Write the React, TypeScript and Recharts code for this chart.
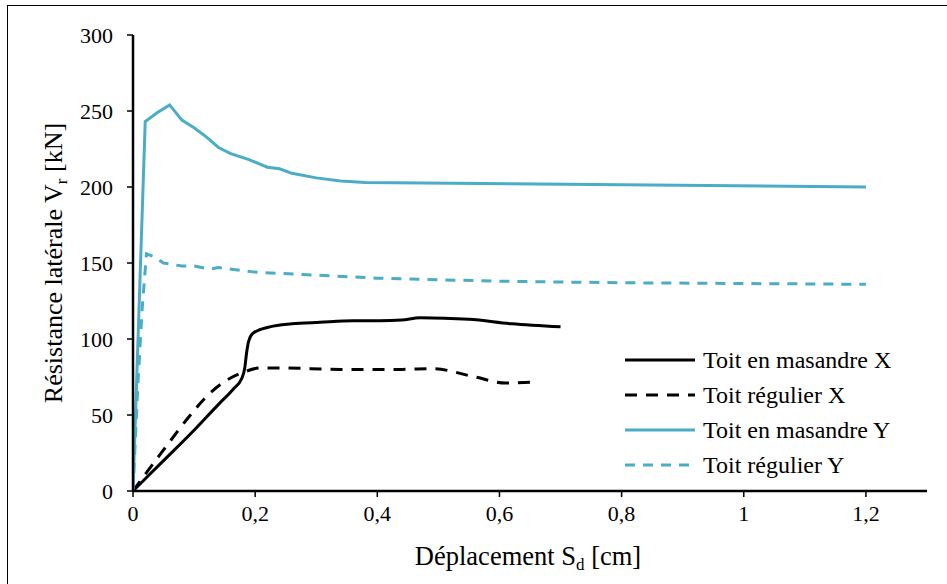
import React from 'react'
import { LineChart, Line, XAxis, YAxis, Label } from 'recharts'

// Déplacement (cm) / Résistance (kN) pour chaque courbe
const masandreXDisp = [0, 0.05, 0.1, 0.14, 0.164, 0.178, 0.183, 0.186, 0.189, 0.197, 0.224, 0.26, 0.306, 0.36, 0.404, 0.44, 0.47, 0.55, 0.62, 0.7]
const masandreXRes = [0, 20, 40, 57, 67, 74, 81, 91, 98, 104, 108, 110, 111, 112, 112, 112.5, 114, 113, 110, 108]

const regulierXDisp = [0, 0.02, 0.05, 0.09, 0.12, 0.15, 0.18, 0.21, 0.24, 0.34, 0.44, 0.49, 0.56, 0.61, 0.65]
const regulierXRes = [0, 11, 27, 48, 62, 72, 78, 81, 81, 80, 80, 80.5, 75, 71, 71.5]

const masandreYDisp = [0, 0.02, 0.04, 0.06, 0.08, 0.1, 0.12, 0.14, 0.16, 0.19, 0.22, 0.24, 0.26, 0.3, 0.34, 0.38, 1.2]
const masandreYRes = [0, 243, 249, 254, 244, 239, 233, 226, 222, 218, 213, 212, 209, 206, 204, 203, 200]

const regulierYDisp = [0, 0.008, 0.015, 0.022, 0.035, 0.05, 0.08, 0.1, 0.125, 0.14, 0.2, 0.3, 0.4, 0.6, 0.8, 1.2]
const regulierYRes = [0, 70, 120, 156, 154, 150, 148, 148, 146, 147, 144, 142, 140, 138, 137, 136]

const xTicks = [0, 0.2, 0.4, 0.6, 0.8, 1, 1.2]
const yTicks = [0, 50, 100, 150, 200, 250, 300]

const seriesNames = ['Toit en masandre X', 'Toit régulier X', 'Toit en masandre Y', 'Toit régulier Y']

const BLUE = '#4bacc6'
const FONT = '"Liberation Serif", "Times New Roman", serif'

const toPoints = (d: number[], v: number[]) => d.map((x, i) => ({ x, y: v[i] }))

const series = [
  { name: seriesNames[0], data: toPoints(masandreXDisp, masandreXRes), color: '#000', dash: undefined, curve: 'monotone' },
  { name: seriesNames[1], data: toPoints(regulierXDisp, regulierXRes), color: '#000', dash: '12 9', curve: 'monotone' },
  { name: seriesNames[2], data: toPoints(masandreYDisp, masandreYRes), color: BLUE, dash: undefined, curve: 'linear' },
  { name: seriesNames[3], data: toPoints(regulierYDisp, regulierYRes), color: BLUE, dash: '10 8', curve: 'linear' },
]

const fmt = (v: number) => String(v).replace('.', ',')

const LegendBox = () => (
  <div style={{ position: 'absolute', left: 624, top: 342, fontFamily: FONT, fontSize: 24, color: '#000', lineHeight: 1 }}>
    {series.map((s) => (
      <div key={s.name} style={{ display: 'flex', alignItems: 'center', height: 35 }}>
        <svg width={72} height={10} style={{ marginRight: 7 }}>
          <line x1={1} y1={5} x2={71} y2={5} stroke={s.color} strokeWidth={3} strokeDasharray={s.dash} />
        </svg>
        <span>{s.name}</span>
      </div>
    ))}
  </div>
)

export default function App() {
  return (
    <div style={{ position: 'absolute', left: 0, top: 0, width: 947, height: 584, background: '#fff', overflow: 'hidden' }}>
      <div style={{ position: 'absolute', left: 7, top: 5, width: 1000, height: 1000, border: '1px solid #000' }} />
      <div style={{ position: 'absolute', left: 0, top: 0 }}>
        <LineChart width={947} height={584} margin={{ top: 35, right: 20, bottom: 33, left: 73 }}>
          <XAxis
            dataKey="x"
            type="number"
            domain={[0, 1.3]}
            ticks={xTicks}
            tickFormatter={fmt}
            allowDataOverflow
            height={60}
            axisLine={{ stroke: '#000', strokeWidth: 2.5 }}
            tickLine={{ stroke: '#000', strokeWidth: 1.5 }}
            tickSize={6}
            tickMargin={8}
            tick={{ fill: '#000', fontSize: 22, fontFamily: FONT }}
          >
            <Label
              content={() => (
                <text x={528} y={565} textAnchor="middle" fontFamily={FONT} fontSize={26.5} fill="#000">
                  Déplacement S<tspan fontSize={17} dy={5}>d</tspan>
                  <tspan dy={-5}> [cm]</tspan>
                </text>
              )}
            />
          </XAxis>
          <YAxis
            dataKey="y"
            type="number"
            domain={[0, 300]}
            ticks={yTicks}
            width={60}
            axisLine={{ stroke: '#000', strokeWidth: 2.5 }}
            tickLine={{ stroke: '#000', strokeWidth: 1.5 }}
            tickSize={6}
            tickMargin={14}
            tick={{ fill: '#000', fontSize: 22, fontFamily: FONT }}
          >
            <Label
              content={() => (
                <text
                  x={62}
                  y={263}
                  transform="rotate(-90, 62, 263)"
                  textAnchor="middle"
                  fontFamily={FONT}
                  fontSize={26}
                  fill="#000"
                >
                  Résistance latérale V<tspan fontSize={17} dy={5}>r</tspan>
                  <tspan dy={-5}> [kN]</tspan>
                </text>
              )}
            />
          </YAxis>
          {series.map((s) => (
            <Line
              key={s.name}
              data={s.data}
              dataKey="y"
              name={s.name}
              type={s.curve as any}
              stroke={s.color}
              strokeWidth={3}
              strokeDasharray={s.dash}
              dot={false}
              isAnimationActive={false}
            />
          ))}
        </LineChart>
      </div>
      <LegendBox />
    </div>
  )
}
